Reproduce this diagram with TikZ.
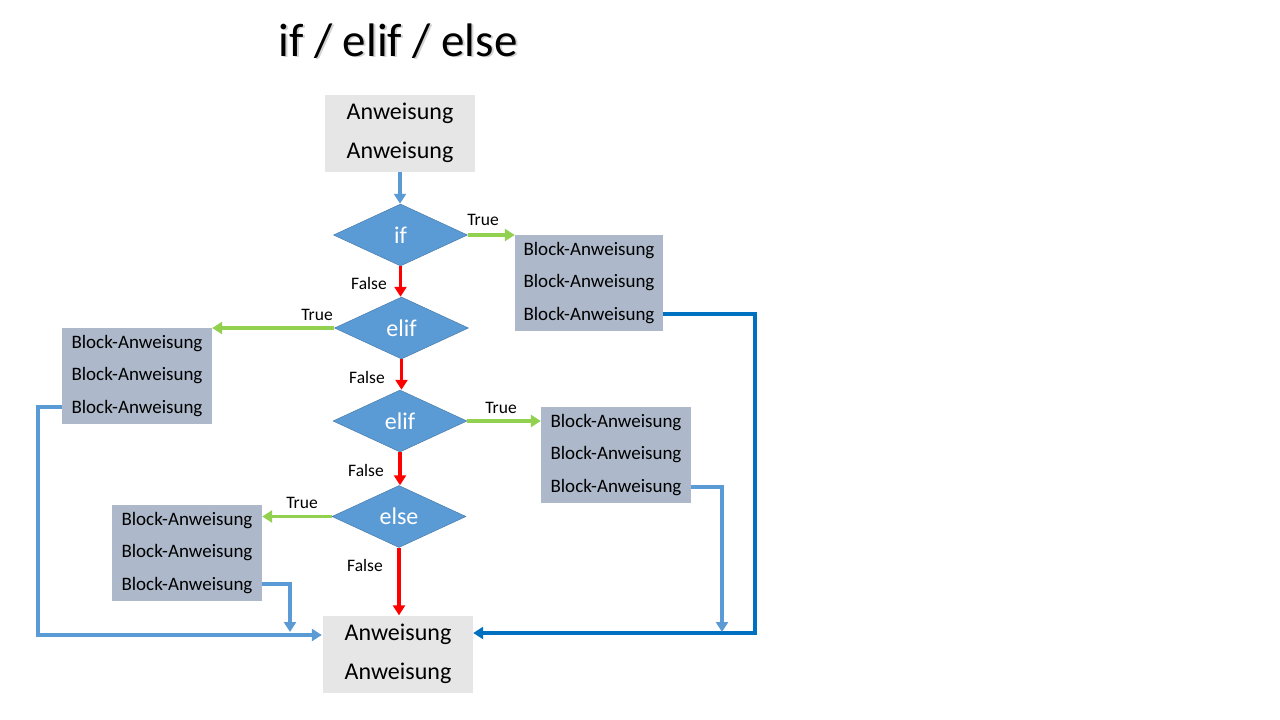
\documentclass[tikz,border=0pt]{standalone}
\usepackage{fontspec}
\setmainfont{Carlito}
\usetikzlibrary{shapes.geometric,arrows.meta,calc}
\definecolor{boxgray}{HTML}{E7E6E6}
\definecolor{blockfill}{HTML}{ADB9CA}
\definecolor{diafill}{HTML}{5B9BD5}
\definecolor{lblue}{HTML}{5B9BD5}
\definecolor{dblue}{HTML}{0070C0}
\definecolor{tgreen}{HTML}{92D050}
\definecolor{fred}{HTML}{FF0000}
\tikzset{
  stmtbox/.style={fill=boxgray, minimum width=150pt, minimum height=77pt, inner sep=0pt, align=center,
    font=\fontsize{24pt}{39pt}\selectfont},
  blockbox/.style={fill=blockfill, minimum width=150pt, minimum height=96pt, inner sep=0pt, align=center,
    font=\fontsize{19pt}{32.5pt}\selectfont},
  decision/.style={diamond, fill=diafill, draw=diafill!80!black, line width=0.5pt, minimum width=134pt, minimum height=62pt,
    inner sep=0pt, aspect=2.16, text=white, font=\fontsize{24pt}{28pt}\selectfont},
  lbl/.style={font=\fontsize{17.5pt}{20pt}\selectfont, inner sep=0pt},
  tip/.style={-{Triangle[length=10pt,width=12pt]}},
  trueline/.style={tip, draw=tgreen, line width=3.5pt},
  falseline/.style={tip, draw=fred, line width=3.5pt},
  flowline/.style={tip, draw=lblue, line width=3.2pt},
  mainline/.style={tip, draw=dblue, line width=4.2pt},
}
\begin{document}
\begin{tikzpicture}[x=1pt,y=-1pt]
\useasboundingbox (0,0) rectangle (1280,720);
% title with shadow
\node[text=black!35, font=\fontsize{47pt}{50pt}\selectfont, opacity=0.5] (titleshadow) at (400,42.5) {if / elif / else};
\node[font=\fontsize{47pt}{50pt}\selectfont] (title) at (398,41) {if / elif / else};

\node[stmtbox] (top) at (400,133) {Anweisung\\Anweisung};
\node[decision] (if) at (400.5,235) {if};
\node[blockbox, minimum width=148pt] (b1) at (589,283) {Block-Anweisung\\Block-Anweisung\\Block-Anweisung};
\node[decision] (e1) at (401.5,328) {elif};
\node[blockbox] (b2) at (137,376) {Block-Anweisung\\Block-Anweisung\\Block-Anweisung};
\node[decision] (e2) at (400,421) {elif};
\node[blockbox] (b3) at (616,455) {Block-Anweisung\\Block-Anweisung\\Block-Anweisung};
\node[decision] (el) at (399,516.5) {else};
\node[blockbox] (b4) at (187,553) {Block-Anweisung\\Block-Anweisung\\Block-Anweisung};
\node[stmtbox] (bot) at (398,654) {Anweisung\\Anweisung};

% labels
\node[lbl] (t1) at (483,220) {True};
\node[lbl] (f1) at (369,283) {False};
\node[lbl] (t2) at (317,315) {True};
\node[lbl] (f2) at (367,377) {False};
\node[lbl] (t3) at (501,408) {True};
\node[lbl] (f3) at (366,470) {False};
\node[lbl] (t4) at (302,503) {True};
\node[lbl] (f4) at (365,565) {False};

% coordinates for routing
\coordinate (rt) at (755,633);
\coordinate (r3) at (722,632);
\coordinate (lc) at (38,635);
\coordinate (r4) at (290,632);

% main flow
\draw[flowline] (top.south) -- (top.south |- if.north);
\draw[trueline] (if.east) -- (if.east -| b1.west);
\draw[falseline] (if.south) -- (if.south |- e1.north);
\draw[trueline] (e1.west) -- (e1.west -| b2.east);
\draw[falseline] (e1.south) -- (e1.south |- e2.north);
\draw[trueline] (e2.east) -- (e2.east -| b3.west);
\draw[falseline] (e2.south) -- (e2.south |- el.north);
\draw[trueline] (el.west) -- (el.west -| b4.east);
\draw[falseline] (el.south) -- (el.south |- bot.north);

% returns
\draw[mainline] ($(b1.east)+(0,31)$) -| (rt) -- (rt -| bot.east);
\draw[flowline] ($(b3.east)+(0,32)$) -| (r3);
\draw[flowline] ($(b2.west)+(0,31)$) -| (lc) -- ($(lc -| bot.west)+(-1,0)$);
\draw[flowline] ($(b4.east)+(0,31)$) -| (r4);
\end{tikzpicture}
\end{document}
